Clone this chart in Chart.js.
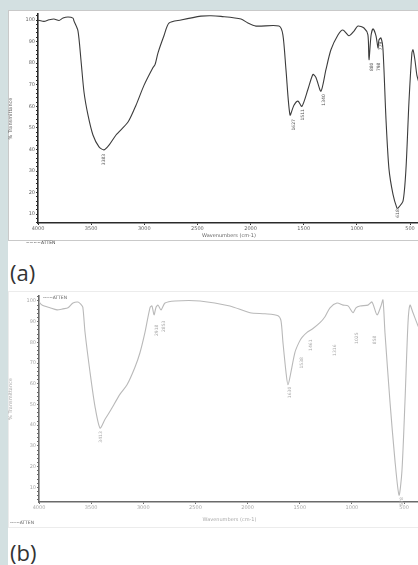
<!DOCTYPE html>
<html><head><meta charset="utf-8">
<script src="https://cdn.jsdelivr.net/npm/chart.js@4"></script>
<style>
html,body{margin:0;padding:0;width:418px;height:565px;overflow:hidden;background:#fff;position:relative;font-family:"Open Sans",sans-serif;}
#stripL{position:absolute;left:0;top:0;width:8px;height:565px;background:#d3e0e1;}
#stripT{position:absolute;left:0;top:0;width:418px;height:10px;background:#d3e0e1;}
.frame{position:absolute;left:8px;width:430px;box-sizing:border-box;}
#fa{top:10px;height:231px;border:1px solid #c9c9c9;}
#fb{top:291px;height:237px;border:1px solid #ececec;}
canvas{position:absolute;}
#ca{left:8px;top:10px;}
#cb{left:8px;top:292px;}
.lbl{position:absolute;left:10px;font-size:22px;color:#333;line-height:1;}
.att{position:absolute;font-size:4.5px;color:#555;white-space:nowrap;font-family:"DejaVu Sans",sans-serif;}
</style>
</head><body>
<div id="stripL"></div><div id="stripT"></div>
<div class="frame" id="fa"></div>
<div class="frame" id="fb"></div>
<canvas id="ca" width="420" height="233"></canvas>
<canvas id="cb" width="420" height="235"></canvas>
<div class="lbl" style="top:261px">(a)</div>
<div class="lbl" style="top:541px">(b)</div>
<div class="att" style="left:26px;top:240px;color:#444">~~~~ATTEN</div>
<div class="att" style="left:43px;top:295px;color:#666">------ATTEN</div>
<div class="att" style="left:10px;top:520px;color:#666">------ATTEN</div>
<script>
// ---- data (a) ----
const wnA = [4000,3993,3944,3897,3850,3802,3765,3718,3671,3661,3624,3596,3567,3530,3483,3426,3379,3332,3266,3153,3078,3003,2918,2899,2871,2815,2768,2655,2467,2373,2278,2090,2025,1949,1733,1696,1667,1629,1592,1554,1517,1460,1413,1385,1338,1291,1244,1178,1131,1074,1027,990,933,896,886,867,848,820,801,792,773,754,726,698,660,623,613,566,538,510,482,472,454,435,416,406];
const tA  = [99.8,99.9,99.4,100.1,100.5,99.8,100.9,101.4,100.9,99.5,95,81.6,66.5,56,46.7,41.2,39.8,42,46.7,52.7,60.5,69.7,78,79.3,84.8,92.7,98.6,100,101.8,102,101.7,100.5,98.6,97.2,97.2,93.1,77,56,60.5,62.4,60,67.9,74.8,73.4,67,77,86.2,93.1,95.4,92.7,94.9,97.2,96.3,93.1,81.6,92.7,95.9,92.7,87.1,90.8,91.7,86.2,54,31,19.2,12.8,12.8,16,31,61.9,84.8,86.2,81.6,74.3,71,69];
const peakWnA = [3379,1592,1507,1310,858,792,773,613];
const peakTA  = [38,54.1,58.7,65.6,80.3,80.3,90,12.3];
const peakLblA = ['3383','1627','1511','1340','880','798','779','618'];
// ---- data (b) ----
const wnB = [4000,3971,3895,3827,3770,3722,3674,3626,3600,3580,3559,3511,3463,3415,3367,3319,3223,3156,3080,3032,2984,2936,2917,2897,2878,2859,2830,2792,2696,2456,2169,1977,1833,1708,1680,1661,1632,1613,1584,1546,1507,1478,1430,1373,1306,1258,1210,1143,1085,1037,989,961,922,846,807,759,721,702,683,635,587,548,520,491,462,443,414,366,347];
const tB  = [99.5,98,96.7,95.7,96.2,96.7,99,99.5,98.5,97,85,65.7,49,38.6,42.9,46.7,55,59.5,68,75,84.8,96.7,97.6,93.3,97,98,95.7,99,100,100,97.6,94.3,93.8,92.9,90.5,80,65.7,59.5,65.7,75.2,80,82.4,84.8,86.7,89.5,92.4,96.7,99,98,97.6,94.3,96.7,97.6,98,99.5,93.3,97.6,100.5,84.8,51.4,22.9,6.2,18,51.4,89.5,98,94.3,88,86];
const peakWnB = [3406,2869,2802,1594,1478,1392,1162,951,778,519];
const peakTB  = [37.1,88.6,90.5,58.6,72.9,81.4,79,84.8,83.3,5.2];
const peakLblB = ['3413','2918','2853','1630','1538','1461','1316','1025','858','578'];
// ---- ticks ----
const xTickVals = [4000,3500,3000,2500,2000,1500,1000,500];
const xTickLbls = ['4000','3500','3000','2500','2000','1500','1000','500'];
const yTickVals = [10,20,30,40,50,60,70,80,90,100];
const yTickLbls = ['10','20','30','40','50','60','70','80','90','100'];
const xTitle = 'Wavenumbers (cm-1)';
const yTitle = '% Transmittance';

function pts(xs, ys){ return xs.map((x,i)=>({x:x, y:ys[i]})); }

function peakPlugin(wns, ts, lbls, color){
  return {
    id:'peaks',
    afterDatasetsDraw(chart){
      const c = chart.ctx, xs = chart.scales.x, ys = chart.scales.y;
      c.save();
      c.font = '4.5px "DejaVu Sans"';
      c.fillStyle = color;
      c.textAlign = 'right';
      c.textBaseline = 'middle';
      wns.forEach((w,i)=>{
        const px = xs.getPixelForValue(w), py = ys.getPixelForValue(ts[i]);
        c.save(); c.translate(px, py); c.rotate(-Math.PI/2);
        c.fillText(lbls[i], 0, 0);
        c.restore();
      });
      c.restore();
    }
  };
}

function makeChart(id, wns, ts, cfg){
  const yMinor = [];
  for (let v = 2; v <= 102; v += 2) if (v >= cfg.ymin && v <= cfg.ymax) yMinor.push(v);
  return new Chart(document.getElementById(id), {
    type:'line',
    data:{datasets:[{data:pts(wns, ts), borderColor:cfg.line, borderWidth:cfg.lw, pointRadius:0, tension:0.25, fill:false}]},
    options:{
      responsive:false, animation:false, devicePixelRatio:1,
      layout:{padding:{top:1, right:8, left:0, bottom:4}},
      plugins:{legend:{display:false}, tooltip:{enabled:false}},
      scales:{
        x:{type:'linear', reverse:true, min:cfg.xmin, max:4000,
          afterFit(s){ s.height = cfg.xh; },
          afterBuildTicks(s){ s.ticks = xTickVals.map(v=>({value:v})); },
          ticks:{autoSkip:false, maxRotation:0, minRotation:0, padding:1, color:cfg.txt, font:{size:5, family:'DejaVu Sans'},
            callback:(v)=>{ const k = xTickVals.indexOf(v); return k>=0 ? xTickLbls[k] : ''; }},
          grid:{drawOnChartArea:false, tickLength:2, color:cfg.axis},
          border:{color:cfg.axis, width:1.6},
          title:{display:true, text:xTitle, color:cfg.txt, font:{size:5, family:'DejaVu Sans'}, padding:0}
        },
        y:{min:cfg.ymin, max:cfg.ymax,
          afterFit(s){ s.width = cfg.yw; },
          afterBuildTicks(s){ s.ticks = yMinor.map(v=>({value:v})); },
          ticks:{autoSkip:false, padding:1, color:cfg.txt, font:{size:5, family:'DejaVu Sans'},
            callback:(v)=>{ const k = yTickVals.indexOf(v); return k>=0 ? yTickLbls[k] : ''; }},
          grid:{drawOnChartArea:false, tickLength:2, color:cfg.axis},
          border:{color:cfg.axis, width:1.6},
          title:{display:true, text:yTitle, color:cfg.txt, font:{size:5, family:'DejaVu Sans'}, padding:{top:0,bottom:0}}
        }
      }
    },
    plugins:[peakPlugin(cfg.pw, cfg.pt, cfg.pl, cfg.ptxt)]
  });
}

makeChart('ca', wnA, tA, {xmin:406, ymin:5.9, ymax:102.8, xh:16, yw:30,
  line:'#3c3c3c', lw:1.1, axis:'#2a2a2a', txt:'#666', ptxt:'#555',
  pw:peakWnA, pt:peakTA, pl:peakLblA});
makeChart('cb', wnB, tB, {xmin:347, ymin:2.9, ymax:102.4, xh:21, yw:31,
  line:'#b9b9b9', lw:1.1, axis:'#6a6a6a', txt:'#aaa', ptxt:'#aaa',
  pw:peakWnB, pt:peakTB, pl:peakLblB});
</script>
</body></html>
